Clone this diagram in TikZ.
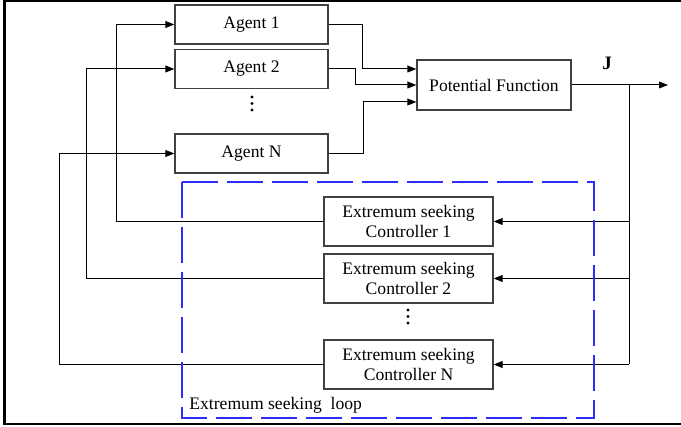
\documentclass[tikz,border=0pt]{standalone}
\usepackage{fontspec}
\setmainfont{Liberation Serif}
\usepackage{tikz}
\usetikzlibrary{positioning,arrows.meta,calc}

\definecolor{loopblue}{RGB}{45,45,255}

\begin{document}
\begin{tikzpicture}[
        x=0.5pt, y=-0.5pt,
        font=\fontsize{8.8}{10}\selectfont,
        >={Triangle[length=4.5pt,width=3.4pt]},
        block/.style={
            rectangle,
            draw=black!75,
            line width=0.6pt,
            align=center,
            inner sep=0pt,
            minimum width=#1
        },
        agent/.style={block=76.5pt, minimum height=19.5pt},
        esc/.style={block=84.5pt, minimum height=24.5pt},
        dot/.style={circle, fill=black, inner sep=0pt, minimum size=1.7pt},
        flow/.style={->, line width=0.5pt, draw=black},
        wire/.style={line width=0.5pt, draw=black},
        loopbox/.style={draw=loopblue, line width=0.65pt, dash pattern=on 18pt off 4.5pt},
        frame/.style={line width=1.1pt, draw=black}
    ]
        \useasboundingbox (0,0) rectangle (681,427);

        % Outer frame (open on the right)
        \draw[frame] (681,1) -- (4.5,1) -- (4.5,424) -- (681,424);

        % Agents
        \node[agent] (a1) at (251.5,24.5) {Agent 1};
        \node[agent] (a2) at (251.5,69) {Agent 2};
        \node[agent] (aN) at (251.5,153.5) {Agent N};
        \foreach \i/\y in {1/97,2/103.5,3/110}
            \node[dot] (adot\i) at (252,\y) {};

        % Potential function and output
        \node[block=77pt, minimum height=25pt] (pf) at (494,85) {Potential Function};
        \coordinate (tap) at (629,85);
        \coordinate (out) at (668,85);
        \node[font=\fontsize{9.5}{10}\selectfont\bfseries] (jlab) at (607,63) {J};

        \draw[flow] (a1.east) -- ++(34,0) |- ($(pf.west)+(0,-16)$);
        \draw[flow] (a2.east) -- ++(27,0) |- (pf.west);
        \draw[flow] (aN.east) -- ++(35,0) |- ($(pf.west)+(0,17)$);
        \draw[flow] (pf.east) -- (out);

        % Extremum seeking controllers
        \node[esc] (es1) at (408.5,221.5) {Extremum seeking\\Controller 1};
        \node[esc] (es2) at (408.5,278.5) {Extremum seeking\\Controller 2};
        \node[esc] (esN) at (408.5,364.5) {Extremum seeking\\Controller N};
        \foreach \i/\y in {1/310,2/316.5,3/323}
            \node[dot] (edot\i) at (408,\y) {};

        % Feedback of J
        \draw[wire] (tap) -- (tap |- esN.east);
        \draw[flow] (tap |- es1.east) -- (es1.east);
        \draw[flow] (tap |- es2.east) -- (es2.east);
        \draw[flow] (tap |- esN.east) -- (esN.east);

        % Controller outputs back to the agents
        \draw[flow] (es1.west) -- ++(-207,0) |- (a1.west);
        \draw[flow] (es2.west) -- ++(-237,0) |- (a2.west);
        \draw[flow] (esN.west) -- ++(-264,0) |- (aN.west);

        % Loop boundary
        \draw[loopbox] (182,182) rectangle (594,418);
        \node[anchor=west, inner sep=0pt] (looplab) at (189,405) {Extremum seeking\ \ loop};

    \end{tikzpicture}
\end{document}
